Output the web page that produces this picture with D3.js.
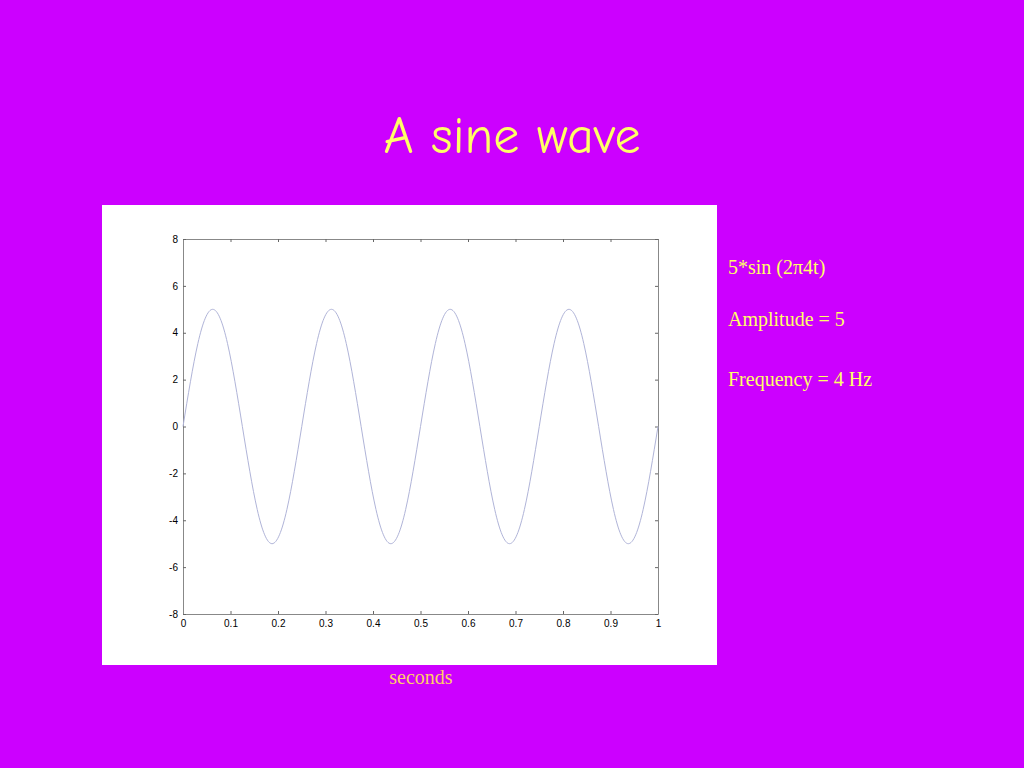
<!DOCTYPE html>
<html><head><meta charset="utf-8">
<script src="https://cdn.jsdelivr.net/npm/d3@7"></script>
<style>body{margin:0;background:#cc00ff;}svg{display:block}</style>
</head><body><svg id="c" width="1024" height="768"></svg>
<script>
const timeStep = 1/64;
const values = [
 0,1.91,3.54,4.62,5,4.62,3.54,1.91,0,-1.91,-3.54,-4.62,-5,-4.62,-3.54,-1.91,
 0,1.91,3.54,4.62,5,4.62,3.54,1.91,0,-1.91,-3.54,-4.62,-5,-4.62,-3.54,-1.91,
 0,1.91,3.54,4.62,5,4.62,3.54,1.91,0,-1.91,-3.54,-4.62,-5,-4.62,-3.54,-1.91,
 0,1.91,3.54,4.62,5,4.62,3.54,1.91,0,-1.91,-3.54,-4.62,-5,-4.62,-3.54,-1.91,
 0];
const xTicks = [0,0.1,0.2,0.3,0.4,0.5,0.6,0.7,0.8,0.9,1];
const yTicks = [-8,-6,-4,-2,0,2,4,6,8];
const notes = ["5*sin (2\u03c04t)","Amplitude = 5","Frequency = 4 Hz"];

const svg = d3.select("#c");
svg.append("rect").attr("width",1024).attr("height",768).attr("fill","#cc00ff");
svg.append("text").attr("x",512).attr("y",153).attr("text-anchor","middle")
  .attr("font-family","'Comic Sans MS','Comic Neue',Lato,sans-serif").attr("font-size",52)
  .attr("fill","#ffff66").text("A sine wave");
svg.append("rect").attr("x",102).attr("y",205).attr("width",615).attr("height",460).attr("fill","#fff");

const x = d3.scaleLinear().domain([0,1]).range([183,658]);
const y = d3.scaleLinear().domain([-8,8]).range([614,239]);
const g = svg.append("g");
const fmt = d=>String(d);
g.append("g").attr("transform","translate(0,614)").call(d3.axisBottom(x).tickValues(xTicks).tickFormat(fmt).tickSizeInner(-3).tickSizeOuter(0).tickPadding(6));
g.append("g").attr("transform","translate(0,239)").call(d3.axisTop(x).tickValues(xTicks).tickFormat("").tickSizeInner(-3).tickSizeOuter(0));
g.append("g").attr("transform","translate(183,0)").call(d3.axisLeft(y).tickValues(yTicks).tickFormat(fmt).tickSizeInner(-3).tickSizeOuter(0).tickPadding(5));
g.append("g").attr("transform","translate(658,0)").call(d3.axisRight(y).tickValues(yTicks).tickFormat("").tickSizeInner(-3).tickSizeOuter(0));
g.selectAll(".domain").attr("stroke","#888");
g.selectAll(".tick line").attr("stroke","#666");
g.selectAll("text").attr("font-family","Arial,'Liberation Sans',sans-serif").attr("font-size",10).attr("fill","#000");

const line = d3.line().x((d,i)=>x(i*timeStep)).y(d=>y(d)).curve(d3.curveNatural);
svg.append("path").datum(values).attr("d",line).attr("fill","none").attr("stroke","#b0b4d8").attr("stroke-width",1);

svg.append("text").attr("x",421).attr("y",684).attr("text-anchor","middle")
  .attr("font-family","'Liberation Serif','Times New Roman',serif").attr("font-size",20).attr("fill","#ffcc66").text("seconds");
const ny=[274,326,386];
notes.forEach((t,i)=>svg.append("text").attr("x",728).attr("y",ny[i])
  .attr("font-family","'Liberation Serif','Times New Roman',serif").attr("font-size",20).attr("fill","#ffff66").text(t));
</script></body></html>
